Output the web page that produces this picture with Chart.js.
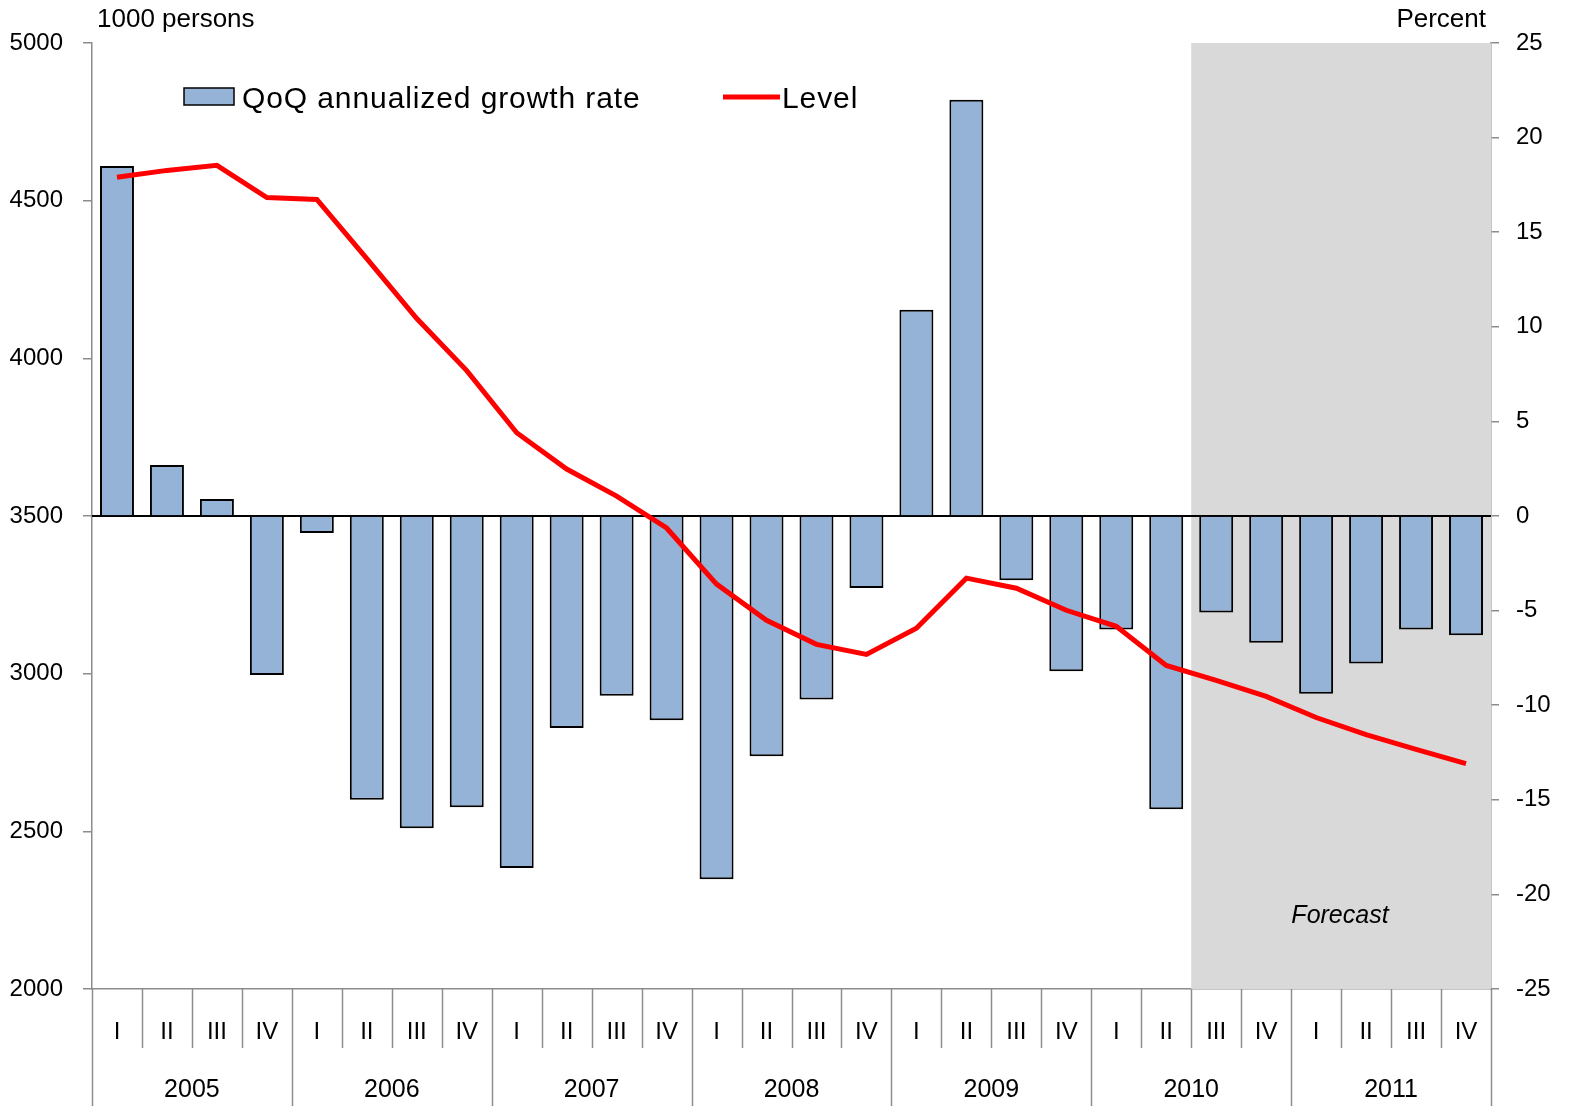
<!DOCTYPE html>
<html lang="en">
<head>
  <meta charset="UTF-8">
  <title>Employment level and growth</title>
  <script src="https://cdn.jsdelivr.net/npm/chart.js"></script>
  <style>
    body { margin: 0; background: #fff; }
    canvas { display: block; }
  </style>
</head>
<body>
  <canvas id="chart" width="1573" height="1106"></canvas>

  <script>
    const years = ['2005', '2006', '2007', '2008', '2009', '2010', '2011'];
    const quarters = ['I', 'II', 'III', 'IV'];
    const categories = [];
    years.forEach(y => quarters.forEach(q => categories.push(q + ' ' + y)));

    // QoQ annualized growth rate, percent (right axis)
    const growth = [18.5, 2.7, 0.9, -8.4,
                    -0.9, -15.0, -16.5, -15.4,
                    -18.6, -11.2, -9.5, -10.8,
                    -19.2, -12.7, -9.7, -3.8,
                    10.9, 22.0, -3.4, -8.2,
                    -6.0, -15.5, -5.1, -6.7,
                    -9.4, -7.8, -6.0, -6.3];

    // Level, 1000 persons (left axis)
    const level = [4574, 4596, 4612, 4510,
                   4504, 4316, 4126, 3961,
                   3764, 3649, 3563, 3462,
                   3284, 3169, 3093, 3061,
                   3144, 3303, 3271, 3201,
                   3150, 3026, 2979, 2928,
                   2861, 2807, 2760, 2715];

    const forecastStart = 22; // first forecast quarter index (2010 III)
    const font = '"Liberation Sans", Arial, sans-serif';
    const axisGray = '#8c8c8c';

    const decor = {
      id: 'decor',
      beforeDatasetsDraw(chart) {
        const { ctx, chartArea: a, scales } = chart;
        const step = (a.right - a.left) / categories.length;
        const fx = a.left + forecastStart * step;
        ctx.save();
        ctx.fillStyle = '#d9d9d9';
        ctx.fillRect(fx, a.top, a.right - fx, a.bottom - a.top);
        // zero line
        const y0 = scales.yR.getPixelForValue(0);
        ctx.strokeStyle = '#000';
        ctx.lineWidth = 2;
        ctx.beginPath();
        ctx.moveTo(a.left, y0);
        ctx.lineTo(a.right, y0);
        ctx.stroke();
        ctx.restore();
      },
      afterDraw(chart) {
        const { ctx, chartArea: a, scales } = chart;
        const x = scales.x;
        const n = categories.length;
        const step = (a.right - a.left) / n;
        ctx.save();
        // category separators
        ctx.strokeStyle = axisGray;
        ctx.lineWidth = 1.5;
        for (let i = 0; i <= n; i++) {
          const px = Math.round(a.left + i * step) + 0.5;
          ctx.beginPath();
          ctx.moveTo(px, a.bottom);
          ctx.lineTo(px, i % 4 === 0 ? chart.height : a.bottom + 59);
          ctx.stroke();
        }
        // quarter and year labels
        ctx.fillStyle = '#000';
        ctx.textAlign = 'center';
        ctx.textBaseline = 'middle';
        ctx.font = '24px ' + font;
        categories.forEach((c, i) => {
          ctx.fillText(quarters[i % 4], x.getPixelForValue(i), a.bottom + 43);
        });
        ctx.font = '25px ' + font;
        years.forEach((y, j) => {
          const cx = (x.getPixelForValue(j * 4) + x.getPixelForValue(j * 4 + 3)) / 2;
          ctx.fillText(y, cx, a.bottom + 101);
        });
        // axis titles
        ctx.font = '26px ' + font;
        ctx.textAlign = 'left';
        ctx.fillText('1000 persons', 97, 20);
        ctx.textAlign = 'right';
        ctx.fillText('Percent', 1486, 20);
        // forecast note
        ctx.textAlign = 'center';
        ctx.font = 'italic 25px ' + font;
        ctx.fillText('Forecast', 1340, 916);
        // legend
        ctx.fillStyle = '#95b3d7';
        ctx.fillRect(184, 88, 50, 17);
        ctx.strokeStyle = '#000';
        ctx.lineWidth = 1.5;
        ctx.strokeRect(184, 88, 50, 17);
        ctx.strokeStyle = '#ff0000';
        ctx.lineWidth = 5;
        ctx.beginPath();
        ctx.moveTo(723, 97);
        ctx.lineTo(780, 97);
        ctx.stroke();
        ctx.fillStyle = '#000';
        ctx.textAlign = 'left';
        ctx.textBaseline = 'alphabetic';
        ctx.font = '30px ' + font;
        ctx.letterSpacing = '0.9px';
        ctx.fillText('QoQ annualized growth rate', 242, 108);
        ctx.fillText('Level', 782, 108);
        ctx.restore();
      }
    };

    const ctx = document.getElementById('chart').getContext('2d');
    new Chart(ctx, {
      data: {
        labels: categories,
        datasets: [
          {
            type: 'line',
            label: 'Level',
            data: level,
            yAxisID: 'yL',
            borderColor: '#ff0000',
            borderWidth: 5,
            pointRadius: 0,
            tension: 0,
            order: 0
          },
          {
            type: 'bar',
            label: 'QoQ annualized growth rate',
            data: growth,
            yAxisID: 'yR',
            backgroundColor: '#95b3d7',
            borderColor: '#000',
            borderWidth: 2,
            barPercentage: 0.68,
            categoryPercentage: 1,
            order: 1
          }
        ]
      },
      options: {
        responsive: false,
        animation: false,
        layout: { padding: { top: 43, left: 0, right: 0, bottom: 0 } },
        plugins: { legend: { display: false }, tooltip: { enabled: false } },
        scales: {
          x: {
            offset: true,
            ticks: { display: false },
            grid: { display: false },
            border: { color: axisGray, width: 1.5 },
            afterFit(s) { s.height = 117; }
          },
          yL: {
            position: 'left',
            min: 2000,
            max: 5000,
            ticks: { stepSize: 500, color: '#000', font: { size: 24, family: font }, padding: 20,
                     callback: v => String(v) },
            grid: { drawOnChartArea: false, color: axisGray, tickLength: 9, lineWidth: 1.5 },
            border: { color: axisGray, width: 1.5 },
            afterFit(s) { s.width = 92; }
          },
          yR: {
            position: 'right',
            min: -25,
            max: 25,
            ticks: { stepSize: 5, color: '#000', font: { size: 24, family: font }, padding: 17 },
            grid: { drawOnChartArea: false, color: axisGray, tickLength: 8, lineWidth: 1.5 },
            border: { color: axisGray, width: 1.5 },
            afterFit(s) { s.width = 82; }
          }
        }
      },
      plugins: [decor]
    });
  </script>
</body>
</html>
